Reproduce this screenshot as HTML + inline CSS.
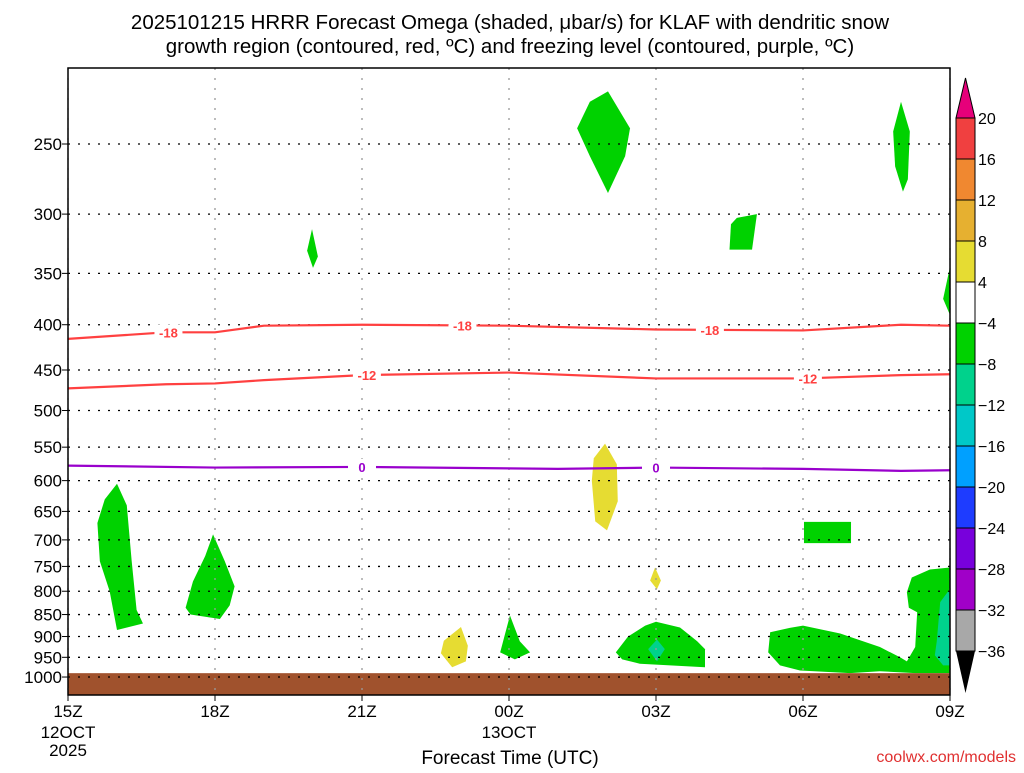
<!DOCTYPE html>
<html><head><meta charset="utf-8"><style>
body{margin:0;background:#fff;width:1024px;height:768px;overflow:hidden}
svg{font-family:"Liberation Sans",sans-serif}
</style></head><body>
<svg id="c" width="1024" height="768" xmlns="http://www.w3.org/2000/svg">
<text x="510" y="29" text-anchor="middle" font-size="20.5">2025101215 HRRR Forecast Omega (shaded, μbar/s) for KLAF with dendritic snow</text>
<text x="510" y="53" text-anchor="middle" font-size="20.5">growth region (contoured, red, ºC) and freezing level (contoured, purple, ºC)</text>
<g id="plot"></g>
<text x="510" y="764" text-anchor="middle" font-size="19">Forecast Time (UTC)</text>
<text x="1016" y="762" text-anchor="end" font-size="16" fill="#e03030">coolwx.com/models</text>
</svg>
<script>
const NS='http://www.w3.org/2000/svg';
const svg=document.getElementById('c');
const g=document.getElementById('plot');
const X0=68,X1=950,Y0=68,Y1=695;
const pressureTicks=[250,300,350,400,450,500,550,600,650,700,750,800,850,900,950,1000];
const hourTicks=[0,3,6,9,12,15,18];
const hourLabels=['15Z','18Z','21Z','00Z','03Z','06Z','09Z'];
const contourHours=[0,2,3,4,6,9,12,15,17,18];
const minus18=[415,408,408,401,400,401,405,406,400,401];
const minus12=[472,467,466,462,456,453,460,460,456,455];
const hours0=[0,3,6,10,12,15,17,18];
const zeroLine=[577,580,579,582,580,582,585,584];
const cbLevels=[20,16,12,8,4,-4,-8,-12,-16,-20,-24,-28,-32,-36];
const cbColors=['#f04040','#f08830','#e6b030','#e6dc32','#ffffff','#00d200','#00d28c','#00c8c8','#00a0ff','#1e3cff','#7800dc','#a000c8','#a8a8a8'];
const greenBlobs=[
[[1.0,605],[1.2,640],[1.3,740],[1.4,840],[1.53,870],[1.0,885],[0.85,800],[0.65,740],[0.6,670],[0.75,630]],
[[2.96,690],[3.2,740],[3.4,790],[3.3,830],[3.1,860],[2.5,850],[2.4,835],[2.55,780],[2.8,730]],
[[4.98,312],[5.1,335],[5.0,345],[4.88,330]],
[[11.02,218],[11.47,240],[11.37,258],[11.02,284],[10.65,258],[10.39,240],[10.65,224]],
[[17.0,224],[17.18,242],[17.14,274],[17.04,283],[16.88,265],[16.84,242]],
[[13.65,303],[14.06,300],[13.96,329],[13.5,329],[13.53,308]],
[[18,344],[17.86,374],[18,390]],
[[15.02,668],[15.98,668],[15.98,706],[15.02,706]],
[[9.02,852],[9.22,911],[9.43,938],[9.12,955],[8.82,938],[8.88,911]],
[[11.18,938],[11.43,900],[11.78,875],[12.0,866],[12.49,879],[12.84,911],[13.0,930],[13.0,975],[11.67,966],[11.31,955]],
[[14.33,890],[14.73,880],[15.0,875],[15.76,893],[16.57,925],[16.98,950],[17.12,960],[17.29,925],[17.33,845],[17.16,835],[17.12,802],[17.22,772],[17.59,756],[18,752],[18,990],[17.29,990],[16.57,985],[15.96,990],[14.94,983],[14.53,970],[14.29,938]]
];
const tealBlobs=[
[[12.02,907],[12.18,930],[12.02,960],[11.84,930]],
[[18,795],[17.8,823],[17.73,911],[17.69,945],[17.86,970],[18,970]]
];
const yellowBlobs=[
[[10.96,545],[11.2,575],[11.22,633],[11.0,683],[10.76,667],[10.69,600],[10.73,566]],
[[11.98,752],[12.1,778],[12.02,796],[11.88,778]],
[[8.02,878],[8.16,922],[8.12,960],[7.84,975],[7.61,940],[7.67,910]]
];
function xs(h){return X0+(X1-X0)*h/18;}
function ys(p){return 144+384.5*Math.log(p/250);}
function mk(tag,attrs,parent){const e=document.createElementNS(NS,tag);for(const k in attrs)e.setAttribute(k,attrs[k]);(parent||g).appendChild(e);return e;}
function blob(pts,fill,name){const e=mk('polygon',{points:pts.map(q=>xs(q[0])+','+ys(q[1])).join(' '),fill:fill});

}
greenBlobs.forEach(b=>blob(b,'#00d200','omega-region-green'));
tealBlobs.forEach(b=>blob(b,'#00d28c','omega-region-teal'));
yellowBlobs.forEach(b=>blob(b,'#e6dc32','omega-region-yellow'));
const gr=mk('rect',{x:X0,y:ys(990),width:X1-X0,height:Y1-ys(990),fill:'#a0522d'});


pressureTicks.forEach(p=>{const y=ys(p);
const l=mk('line',{x1:X0,x2:X1,y1:y,y2:y,stroke:'#000','stroke-width':1.3,'stroke-dasharray':'2,8'});


mk('line',{x1:X0-6,x2:X0,y1:y,y2:y,stroke:'#000'});
const t=mk('text',{x:X0-6,y:y+6,'text-anchor':'end','font-size':17});t.textContent=p;

});
hourTicks.forEach((h,i)=>{const x=xs(h);
const l=mk('line',{x1:x,x2:x,y1:Y0,y2:Y1,stroke:'#999','stroke-width':1.3,'stroke-dasharray':'2,8'});


mk('line',{x1:x,x2:x,y1:Y1,y2:Y1+6,stroke:'#000'});
const t=mk('text',{x:x,y:Y1+22,'text-anchor':'middle','font-size':17});t.textContent=hourLabels[i];

});
[['12OCT',X0,738],['2025',X0,756],['13OCT',xs(9),738]].forEach(a=>{const t=mk('text',{x:a[1],y:a[2],'text-anchor':'middle','font-size':17});t.textContent=a[0];

});
function line(hs,ps,col,name,labels,txt){
const e=mk('polyline',{points:hs.map((h,i)=>xs(h)+','+ys(ps[i])).join(' '),fill:'none',stroke:col,'stroke-width':2.2});


labels.forEach(h=>{let i=0;while(i<hs.length-2&&hs[i+1]<h)i++;
const p=ps[i]+(ps[i+1]-ps[i])*(h-hs[i])/(hs[i+1]-hs[i]);const x=xs(h),y=ys(p);
mk('rect',{x:x-14,y:y-8,width:28,height:16,fill:'#fff'});
const t=mk('text',{x:x,y:y+5,'text-anchor':'middle','font-size':13,'font-weight':'bold',fill:col});t.textContent=txt;

});}
line(contourHours,minus18,'#ff4040','contour-minus18',[2.05,8.05,13.1],'-18');
line(contourHours,minus12,'#ff4040','contour-minus12',[6.1,15.1],'-12');
line(hours0,zeroLine,'#9900cc','freezing-level-line',[6,12],'0');
const fr=mk('rect',{x:X0,y:Y0,width:X1-X0,height:Y1-Y0,fill:'none',stroke:'#000','stroke-width':1.5});


// colorbar
const CX=956,CW=19,CT=118,CS=41;
const tri=mk('polygon',{points:`${CX},${CT} ${CX+CW/2},78 ${CX+CW},${CT}`,fill:'#e6007a',stroke:'#000'},svg);


cbColors.forEach((c,i)=>{const r=mk('rect',{x:CX,y:CT+i*CS,width:CW,height:CS,fill:c,stroke:'#000'},svg);

});
const tb=mk('polygon',{points:`${CX},${CT+13*CS} ${CX+CW/2},${CT+13*CS+42} ${CX+CW},${CT+13*CS}`,fill:'#000'},svg);


cbLevels.forEach((v,i)=>{const t=mk('text',{x:978,y:CT+i*CS+6,'font-size':16},svg);t.textContent=v<0?'−'+(-v):v;

});
</script>
</body></html>
